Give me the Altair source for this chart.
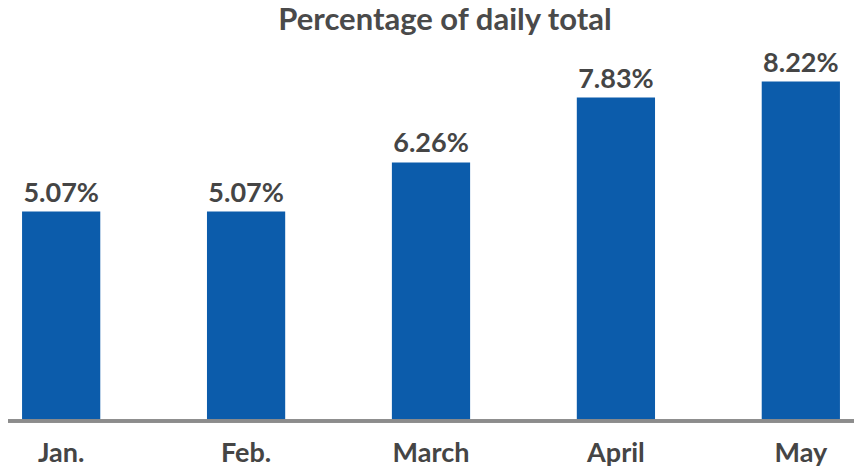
import altair as alt
import pandas as pd

title_text = "Percentage of daily total"
months = ["Jan.", "Feb.", "March", "April", "May"]
values = [5.07, 5.07, 6.26, 7.83, 8.22]
labels = ["5.07%", "5.07%", "6.26%", "7.83%", "8.22%"]

df = pd.DataFrame({"month": months, "value": values, "label": labels})

FONT = "Lato"
TEXT = "#454545"

x = alt.X("month:N", sort=months, title=None,
          scale=alt.Scale(paddingInner=0.577, paddingOuter=0.076),
          axis=alt.Axis(labelAngle=0, ticks=False, domain=False, grid=False,
                        labelFont=FONT, labelFontSize=27, labelFontWeight="bold",
                        labelColor=TEXT, labelBaseline="alphabetic",
                        labelPadding=40))
y = alt.Y("value:Q", title=None, scale=alt.Scale(domain=[0, 9.467], nice=False),
          axis=None)

base = alt.Chart(df)

bars = base.mark_bar(color="#0c5cab").encode(x=x, y=y)

text = base.mark_text(dy=-10, baseline="alphabetic", font=FONT, fontSize=27,
                      fontWeight="bold", color=TEXT).encode(
    x=alt.X("month:N", sort=months), y="value:Q", text="label:N")

rule = base.mark_rule(color="#8c8c8c", strokeWidth=3).encode(
    y=alt.datum(0), x=alt.value(-6), x2=alt.value(852))

title = alt.Chart(pd.DataFrame({"t": [title_text]})).mark_text(
    font=FONT, fontSize=31, fontWeight="bold", color="#4a4a4a",
    baseline="alphabetic", align="center").encode(
    x=alt.value(437), y=alt.value(0), text="t:N")

chart = alt.layer(bars, rule, text, title).properties(
    width=846, height=391,
    autosize=alt.AutoSizeParams(type="none"),
    padding={"left": 0, "right": 0, "top": 22, "bottom": 52},
).configure_view(stroke=None)

chart.save("out.html", embed_options={"renderer": "svg", "actions": False})
